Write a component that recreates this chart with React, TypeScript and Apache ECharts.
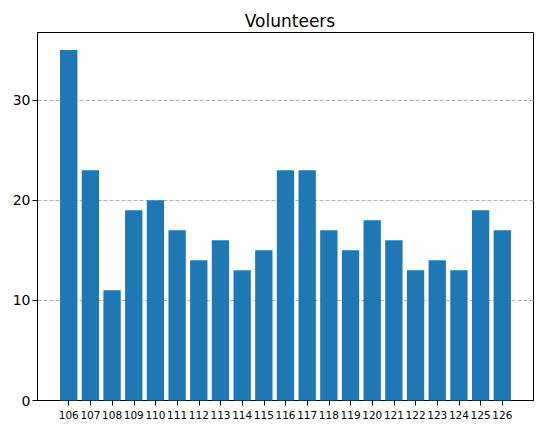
import React, { useEffect, useRef } from "react";
import * as echarts from "echarts";

const categories = ["106","107","108","109","110","111","112","113","114","115","116","117","118","119","120","121","122","123","124","125","126"];
const volunteers = [35,23,11,19,20,17,14,16,13,15,23,23,17,15,18,16,13,14,13,19,17];
const yTicks = [0, 10, 20, 30];

export default function App() {
  const ref = useRef<HTMLDivElement>(null);
  useEffect(() => {
    document.body.style.margin = "0";
    const chart = echarts.init(ref.current!, null, { renderer: "svg" });
    const idx = categories.map((_, i) => i);
    const n = categories.length;
    const pad = 0.4 + 0.05 * (n - 1 + 0.8);
    chart.setOption({
      animation: false,
      textStyle: { fontFamily: "DejaVu Sans" },
      title: {
        text: "Volunteers",
        left: 285,
        textAlign: "center",
        top: 7,
        textStyle: { fontFamily: "DejaVu Sans", fontSize: 17, fontWeight: "normal", color: "#000" },
      },
      grid: { left: 37.5, right: 9.5, top: 32.5, bottom: 30.5, show: true, borderColor: "#000", borderWidth: 1, backgroundColor: "transparent" },
      xAxis: {
        type: "value",
        min: -pad,
        max: n - 1 + pad,
        splitLine: { show: false },
        axisLine: { show: true, onZero: false, lineStyle: { color: "#000", width: 1 } },
        axisTick: { show: true, length: 5, customValues: idx, lineStyle: { color: "#000" } },
        axisLabel: {
          customValues: idx,
          formatter: (v: number) => categories[Math.round(v)] ?? "",
          fontSize: 10.5,
          color: "#000",
          margin: 9,
          fontFamily: "DejaVu Sans",
        },
      },
      yAxis: {
        type: "value",
        min: 0,
        max: 36.75,
        interval: 10,
        axisLine: { show: true, onZero: false, lineStyle: { color: "#000", width: 1 } },
        axisTick: { show: true, length: 5, customValues: yTicks, lineStyle: { color: "#000" } },
        axisLabel: { customValues: yTicks, fontSize: 14, color: "#000", margin: 7, fontFamily: "DejaVu Sans" },
        splitLine: { show: true, lineStyle: { color: "#b0b0b0", type: [4, 2], width: 1 } },
      },
      series: [
        {
          type: "bar",
          data: volunteers.map((v, i) => [i, v]),
          barWidth: "80%",
          itemStyle: { color: "#1f77b4" },
        },
      ],
    });
    return () => chart.dispose();
  }, []);
  return <div ref={ref} style={{ width: 543, height: 431 }} />;
}
